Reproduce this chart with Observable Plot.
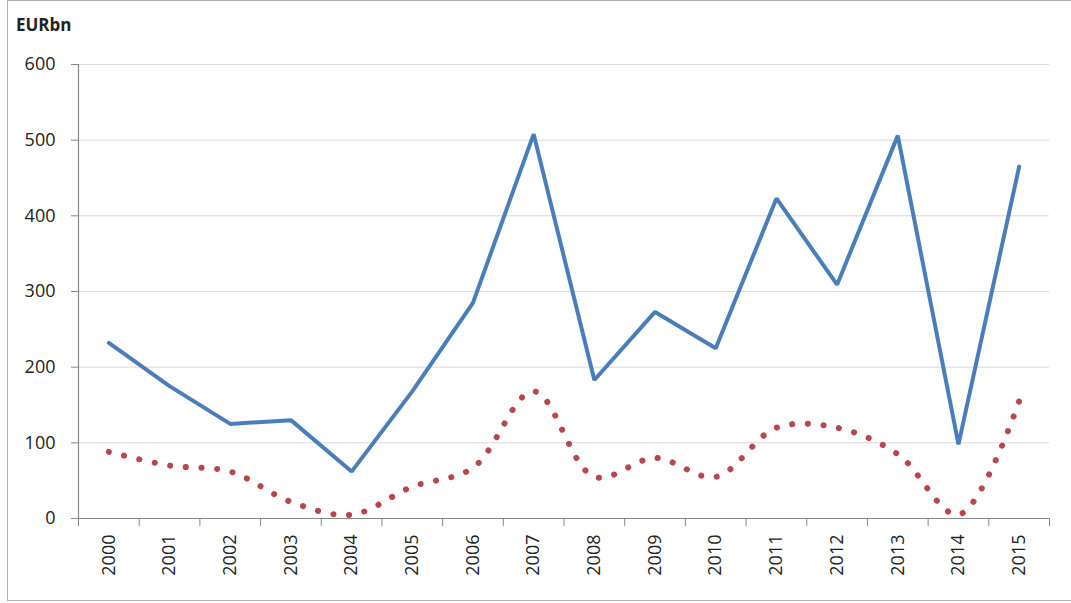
<!DOCTYPE html>
<html>
<head>
<meta charset="utf-8">
<script src="https://cdn.jsdelivr.net/npm/d3@7"></script>
<script src="https://cdn.jsdelivr.net/npm/@observablehq/plot@0.6"></script>
<style>
  html, body { margin: 0; padding: 0; background: #fff; }
  #wrap { position: relative; width: 1071px; height: 603px; overflow: hidden; font-family: "Open Sans", "Liberation Sans", sans-serif; }
  #frame { position: absolute; left: 7px; top: 0px; width: 1070px; height: 601px; border: 1px solid #b0b0b0; box-sizing: border-box; }
  #unit { position: absolute; left: 16px; top: 13px; font-size: 17px; font-weight: bold; color: #222; }
  #chart { position: absolute; left: 0; top: 0; }
</style>
</head>
<body>
<div id="wrap">
  <div id="frame"></div>
  <div id="chart"></div>
  <div id="unit">EURbn</div>
</div>
<script>
const years = ["2000","2001","2002","2003","2004","2005","2006","2007","2008","2009","2010","2011","2012","2013","2014","2015"];
const seriesA = [232, 175, 125, 130, 62, 168, 285, 508, 183, 273, 225, 423, 309, 506, 98, 465];
const seriesB = [88, 70, 62, 22, 5, 42, 67, 168, 55, 80, 55, 120, 120, 85, 5, 155];
const yTicks = [0, 100, 200, 300, 400, 500, 600];

const dataA = years.map((y, i) => ({i, v: seriesA[i]}));
const dataB = years.map((y, i) => ({i, v: seriesB[i]}));
const idx = years.map((y, i) => i);
const bounds = years.map((y, i) => i - 0.5).concat([years.length - 0.5]);

const chart = Plot.plot({
  width: 1071,
  height: 603,
  marginLeft: 78,
  marginRight: 22,
  marginTop: 64,
  marginBottom: 85,
  style: {fontFamily: "'Open Sans', 'Liberation Sans', sans-serif", fontSize: "18px", color: "#222", background: "transparent"},
  x: {type: "linear", domain: [-0.5, years.length - 0.5], axis: null},
  y: {domain: [0, 600], axis: null},
  marks: [
    Plot.gridY(yTicks.filter(d => d > 0), {stroke: "#d9d9d9", strokeOpacity: 1, strokeWidth: 1}),
    Plot.axisY(yTicks, {tickSize: 7, tickPadding: 16, stroke: "#888", fill: "#222", fontSize: 18, label: null}),
    Plot.ruleX([-0.5], {stroke: "#888", strokeWidth: 1.2}),
    Plot.ruleY([0], {stroke: "#888", strokeWidth: 1.2}),
    Plot.axisX(bounds, {tickSize: 8, tickFormat: () => "", stroke: "#888", label: null}),
    Plot.axisX(idx, {tickSize: 0, tickPadding: 16, tickRotate: -90, tickFormat: i => years[i], fill: "#222", fontSize: 18, label: null}),
    Plot.line(dataA, {x: "i", y: "v", stroke: "#4a7ebb", strokeWidth: 4, strokeLinejoin: "miter"}),
    Plot.line(dataB, {x: "i", y: "v", curve: "catmull-rom", stroke: "#b9464b", strokeWidth: 6, strokeLinecap: "round", strokeDasharray: "0.1 15.6"})
  ]
});
document.getElementById("chart").appendChild(chart);
</script>
</body>
</html>
